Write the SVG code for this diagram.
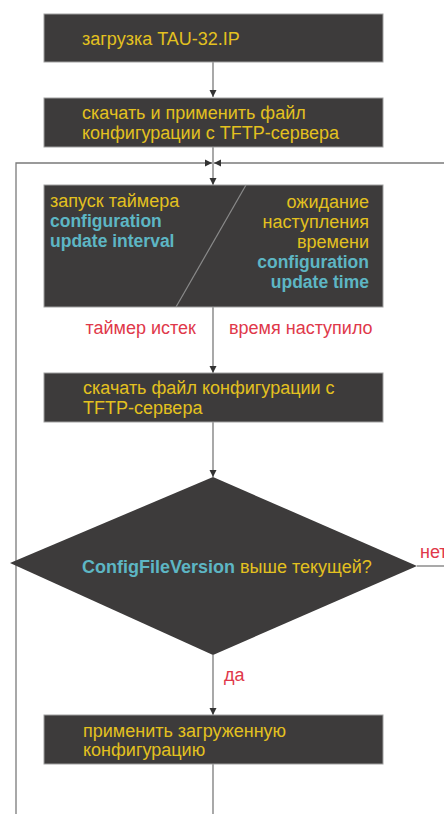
<svg xmlns="http://www.w3.org/2000/svg" width="444" height="814" viewBox="0 0 444 814">
<style>
.box{fill:#3d3b3b;stroke:#a0a0a0;stroke-width:1}
.ln{fill:none;stroke:#7a7a7a;stroke-width:1.3}
.t{font-family:"Liberation Sans",Arial,sans-serif;font-size:18px}
.y{fill:#e3c11f}
.c{fill:#5db6c4;font-weight:bold;font-size:17.5px}
.r{fill:#e0384a}
.dq{font-family:"Liberation Sans",Arial,sans-serif;font-weight:bold;font-size:18px}
</style>
<defs>
<marker id="ah" markerWidth="8" markerHeight="8" refX="7" refY="4" orient="auto" markerUnits="userSpaceOnUse">
<path d="M0,0.5 L7,4 L0,7.5 Z" fill="#333"/>
</marker>
</defs>
<rect width="444" height="814" fill="#fff"/>
<g id="connectors">
<line class="ln" x1="213" y1="62" x2="213" y2="97" marker-end="url(#ah)"/>
<line class="ln" x1="213" y1="147" x2="213" y2="185" marker-end="url(#ah)"/>
<polyline class="ln" points="16,814 16,163 212,163" marker-end="url(#ah)"/>
<line class="ln" x1="444" y1="163" x2="214" y2="163" marker-end="url(#ah)"/>
<line class="ln" x1="213" y1="307" x2="213" y2="373" marker-end="url(#ah)"/>
<line class="ln" x1="213" y1="422" x2="213" y2="477" marker-end="url(#ah)"/>
<line class="ln" x1="417" y1="566" x2="444" y2="566"/>
<line class="ln" x1="213" y1="655" x2="213" y2="715" marker-end="url(#ah)"/>
<line class="ln" x1="213" y1="764" x2="213" y2="814"/>
<text class="t r" x="196" y="334" text-anchor="end">таймер истек</text>
<text class="t r" x="229" y="334">время наступило</text>
<text class="t r" x="420" y="558">нет</text>
<text class="t r" x="224" y="681">да</text>
</g>
<g id="n1">
<rect class="box" x="44" y="14" width="339" height="48"/>
<text class="t y" x="82" y="45">загрузка TAU-32.IP</text>
</g>
<g id="n2">
<rect class="box" x="44" y="98" width="339" height="49"/>
<text class="t y" x="82" y="119">скачать и применить файл</text>
<text class="t y" x="82" y="139">конфигурации с TFTP-сервера</text>
</g>
<g id="n3">
<rect class="box" x="44" y="185" width="339" height="122"/>
<line x1="246" y1="185" x2="176" y2="307" stroke="#8a8a8a" stroke-width="1.2"/>
<text class="t y" x="50" y="207">запуск таймера</text>
<text class="t c" x="50" y="227">configuration</text>
<text class="t c" x="50" y="247">update interval</text>
<text class="t y" x="369" y="208" text-anchor="end">ожидание</text>
<text class="t y" x="369" y="228" text-anchor="end">наступления</text>
<text class="t y" x="369" y="248" text-anchor="end">времени</text>
<text class="t c" x="369" y="268" text-anchor="end">configuration</text>
<text class="t c" x="369" y="288" text-anchor="end">update time</text>
</g>
<g id="n4">
<rect class="box" x="44" y="373" width="339" height="49"/>
<text class="t y" x="83" y="394">скачать файл конфигурации с</text>
<text class="t y" x="83" y="414">TFTP-сервера</text>
</g>
<g id="n5">
<polygon points="213,477 417,566 213,655 10,563" fill="#3d3b3b"/>
<text class="dq" x="82" y="573"><tspan fill="#5db6c4">ConfigFileVersion</tspan><tspan fill="#e3c11f" font-weight="normal"> выше текущей?</tspan></text>
</g>
<g id="n6">
<rect class="box" x="44" y="715" width="339" height="49"/>
<text class="t y" x="83" y="737">применить загруженную</text>
<text class="t y" x="83" y="756">конфигурацию</text>
</g>
</svg>
